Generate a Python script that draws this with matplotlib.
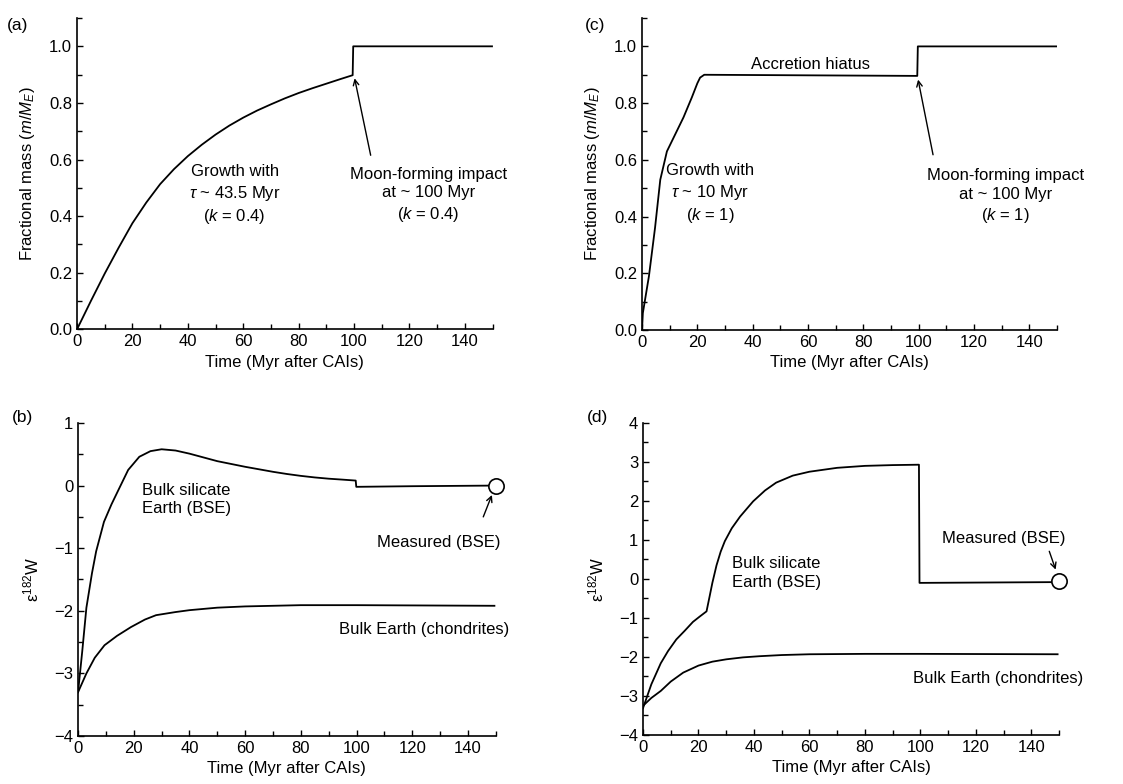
import matplotlib
matplotlib.use("Agg")
import matplotlib.pyplot as plt
from matplotlib.ticker import MultipleLocator, FormatStrFormatter

plt.rcParams['font.family'] = ['Liberation Sans', 'DejaVu Sans']
plt.rcParams['mathtext.fontset'] = 'custom'
plt.rcParams['mathtext.rm'] = 'Liberation Sans'
plt.rcParams['mathtext.it'] = 'Liberation Sans:italic'
plt.rcParams['mathtext.bf'] = 'Liberation Sans:bold'
plt.rcParams['axes.unicode_minus'] = True

# ---------------- data ----------------
# (a) growth, tau ~ 43.5 Myr
a_t = [0, 5, 10, 15, 20, 25, 30, 35, 40, 45, 50, 55, 60, 65, 70, 75, 80, 85, 90, 95, 99.5, 99.7, 149.8]
a_m = [0, 0.10, 0.197, 0.288, 0.375, 0.448, 0.513, 0.566, 0.612, 0.652, 0.688, 0.72, 0.748, 0.773, 0.795,
       0.816, 0.835, 0.852, 0.868, 0.884, 0.898, 1.0, 1.0]

# (c) growth, tau ~ 10 Myr + hiatus
c_t = [0, 0.3, 2.5, 4.7, 6.6, 9, 12, 15, 18, 20, 21, 22.5, 60, 99.5, 99.7, 149.8]
c_m = [0, 0.06, 0.19, 0.36, 0.53, 0.63, 0.69, 0.75, 0.82, 0.87, 0.89, 0.90, 0.898, 0.896, 1.0, 1.0]

# (b) BSE and bulk Earth epsilon 182W
b_bse_t = [0, 1.5, 3, 5, 6.5, 9.3, 12, 14.5, 18, 22, 26, 30, 35, 40, 45, 50, 55, 60, 65, 70, 75, 80, 85, 90,
           95, 99.7, 99.9, 120, 149.5]
b_bse_v = [-3.3, -2.65, -1.95, -1.4, -1.05, -0.58, -0.3, -0.07, 0.25, 0.46, 0.55, 0.58, 0.56, 0.51, 0.45,
           0.39, 0.345, 0.3, 0.26, 0.22, 0.185, 0.155, 0.13, 0.11, 0.095, 0.08, -0.02, -0.01, 0.0]
b_ch_t = [0, 3, 6, 9.5, 14, 19, 24, 28, 35, 40, 50, 60, 70, 80, 100, 149.5]
b_ch_v = [-3.3, -3.0, -2.75, -2.55, -2.4, -2.26, -2.14, -2.07, -2.02, -1.99, -1.95, -1.93, -1.92, -1.91, -1.91, -1.92]
b_meas_t = [150]
b_meas_v = [0.0]

# (d) BSE and bulk Earth epsilon 182W
d_bse_t = [0, 3, 6.4, 9, 12, 15, 18, 20.5, 22.9, 24, 25, 26.5, 28, 29.5, 32, 35, 39.7, 44, 48, 54, 60, 70, 80,
           90, 99.5, 99.7, 149.5]
d_bse_v = [-3.31, -2.7, -2.16, -1.85, -1.55, -1.33, -1.1, -0.96, -0.83, -0.45, -0.1, 0.35, 0.7, 0.97, 1.3, 1.6,
           1.99, 2.27, 2.47, 2.65, 2.75, 2.85, 2.9, 2.92, 2.93, -0.1, -0.08]
d_ch_t = [0, 3, 6.4, 10, 14.5, 20, 25, 30, 36, 42, 50, 60, 80, 100, 149.5]
d_ch_v = [-3.25, -3.05, -2.87, -2.63, -2.4, -2.22, -2.12, -2.06, -2.01, -1.98, -1.95, -1.93, -1.92, -1.92, -1.93]
d_meas_t = [150]
d_meas_v = [-0.06]

x_ticks = [0, 20, 40, 60, 80, 100, 120, 140]

FS = 12
LW = 1.3

fig = plt.figure(figsize=(11.23, 7.84), dpi=100)

ax_a = fig.add_axes([0.0686, 0.580, 0.370, 0.397])
ax_c = fig.add_axes([0.5717, 0.579, 0.3695, 0.398])
ax_b = fig.add_axes([0.0695, 0.0612, 0.372, 0.3993])
ax_d = fig.add_axes([0.5726, 0.0625, 0.3704, 0.398])


def style(ax):
    for s in ['top', 'right']:
        ax.spines[s].set_visible(False)
    for s in ['left', 'bottom']:
        ax.spines[s].set_linewidth(1.2)
    ax.set_xlim(0, 150)
    ax.set_xticks(x_ticks)
    ax.xaxis.set_minor_locator(MultipleLocator(10))
    ax.tick_params(which='both', direction='in', labelsize=FS, width=1.0)
    ax.tick_params(which='major', length=4.5)
    ax.tick_params(which='minor', length=3.5)
    ax.set_xlabel('Time (Myr after CAIs)', fontsize=FS, labelpad=4)


for ax in (ax_a, ax_c):
    style(ax)
    ax.set_ylim(0, 1.1)
    ax.set_yticks([0, 0.2, 0.4, 0.6, 0.8, 1.0])
    ax.yaxis.set_minor_locator(MultipleLocator(0.1))
    ax.yaxis.set_major_formatter(FormatStrFormatter('%.1f'))
    ax.set_ylabel(r'Fractional mass ($m/M_E$)', fontsize=FS, labelpad=9)

for ax in (ax_b, ax_d):
    style(ax)
    ax.yaxis.set_minor_locator(MultipleLocator(0.5))
    ax.set_ylabel(r'$\mathrm{\varepsilon}^{182}\mathrm{W}$', fontsize=FS, labelpad=9)

ax_b.set_ylim(-4, 1)
ax_b.set_yticks([-4, -3, -2, -1, 0, 1])
ax_d.set_ylim(-4, 4)
ax_d.set_yticks([-4, -3, -2, -1, 0, 1, 2, 3, 4])

arrowprops = dict(arrowstyle='->', color='black', lw=1.0, shrinkA=0, shrinkB=0)

# (a)
ax_a.plot(a_t, a_m, color='black', lw=LW)
ax_a.text(56.9, 0.474, 'Growth with\n' + r'$\tau$ ~ 43.5 Myr' + '\n' + r'($k$ = 0.4)',
          ha='center', va='center', fontsize=FS, linespacing=1.3)
ax_a.text(126.8, 0.474, 'Moon-forming impact\nat ~ 100 Myr\n' + r'($k$ = 0.4)',
          ha='center', va='center', fontsize=FS, linespacing=1.3)
ax_a.annotate('', xy=(100.2, 0.887), xytext=(106, 0.615), arrowprops=arrowprops)

# (c)
ax_c.plot(c_t, c_m, color='black', lw=LW)
ax_c.text(60.9, 0.935, 'Accretion hiatus', ha='center', va='center', fontsize=FS)
ax_c.text(24.5, 0.479, 'Growth with\n' + r'$\tau$ ~ 10 Myr' + '\n' + r'($k$ = 1)',
          ha='center', va='center', fontsize=FS, linespacing=1.3)
ax_c.text(131.3, 0.47, 'Moon-forming impact\nat ~ 100 Myr\n' + r'($k$ = 1)',
          ha='center', va='center', fontsize=FS, linespacing=1.3)
ax_c.annotate('', xy=(99.8, 0.883), xytext=(105.2, 0.618), arrowprops=arrowprops)

# (b)
ax_b.plot(b_bse_t, b_bse_v, color='black', lw=LW)
ax_b.plot(b_ch_t, b_ch_v, color='black', lw=LW)
ax_b.plot(b_meas_t, b_meas_v, 'o', ms=11, mfc='white', mec='black', mew=1.2, clip_on=False, zorder=5)
ax_b.text(22.8, -0.22, 'Bulk silicate\nEarth (BSE)', ha='left', va='center', fontsize=FS, linespacing=1.3)
ax_b.text(129.6, -0.915, 'Measured (BSE)', ha='center', va='center', fontsize=FS)
ax_b.text(124.4, -2.30, 'Bulk Earth (chondrites)', ha='center', va='center', fontsize=FS)
ax_b.annotate('', xy=(148.6, -0.15), xytext=(145.5, -0.5), arrowprops=arrowprops)

# (d)
ax_d.plot(d_bse_t, d_bse_v, color='black', lw=LW)
ax_d.plot(d_ch_t, d_ch_v, color='black', lw=LW)
ax_d.plot(d_meas_t, d_meas_v, 'o', ms=11, mfc='white', mec='black', mew=1.2, clip_on=False, zorder=5)
ax_d.text(32.1, 0.15, 'Bulk silicate\nEarth (BSE)', ha='left', va='center', fontsize=FS, linespacing=1.3)
ax_d.text(129.9, 1.05, 'Measured (BSE)', ha='center', va='center', fontsize=FS)
ax_d.text(128.1, -2.54, 'Bulk Earth (chondrites)', ha='center', va='center', fontsize=FS)
ax_d.annotate('', xy=(148.8, 0.24), xytext=(146.5, 0.71), arrowprops=arrowprops)

# panel letters
fig.text(0.016, 0.968, '(a)', fontsize=FS + 0.5, ha='center', va='center')
fig.text(0.530, 0.968, '(c)', fontsize=FS + 0.5, ha='center', va='center')
fig.text(0.0196, 0.467, '(b)', fontsize=FS + 0.5, ha='center', va='center')
fig.text(0.532, 0.467, '(d)', fontsize=FS + 0.5, ha='center', va='center')

fig.savefig('out.png', dpi=100)
